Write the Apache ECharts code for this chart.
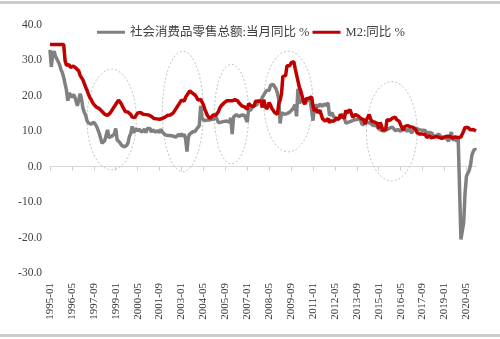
<!DOCTYPE html>
<html>
<head>
<meta charset="utf-8">
<script src="https://cdn.jsdelivr.net/npm/echarts@6/dist/echarts.min.js"></script>
<style>
  html, body { margin: 0; padding: 0; background: #ffffff; }
  #chart { width: 500px; height: 339px; }
</style>
</head>
<body>
<div id="chart"></div>
<script>
// Monthly categories 1995-01 .. 2020-12
const firstYear = 1995;
const lastYear = 2020;
const months = [];
for (let y = firstYear; y <= lastYear; y++) {
  for (let m = 1; m <= 12; m++) months.push(y + '-' + String(m).padStart(2, '0'));
}

// 社会消费品零售总额:当月同比 (%), one row per year
const retailYoY = [
  33.0, 28.2, 31.8, 32.6, 31.2, 30.4, 29.6, 28.8, 27.4, 26.6, 25.2, 23.4,
  21.6, 18.6, 20.8, 20.2, 19.6, 20.4, 19.8, 19.4, 17.2, 18.8, 20.6, 19.2,
  16.6, 15.4, 14.6, 13.0, 12.4, 12.8, 12.0, 11.8, 12.6, 12.2, 11.4, 10.4,
  9.4, 8.0, 6.6, 6.8, 7.4, 7.8, 10.4, 8.2, 8.0, 8.6, 8.4, 9.2,
  10.8, 7.6, 7.2, 6.8, 6.2, 5.8, 5.6, 5.4, 6.0, 6.8, 8.6, 9.4,
  11.4, 9.6, 10.2, 10.8, 10.0, 10.6, 10.4, 9.8, 10.2, 10.6, 9.6, 10.8,
  10.4, 10.8, 9.8, 10.4, 10.2, 9.8, 9.4, 10.2, 9.6, 10.6, 9.8, 9.4,
  9.0, 8.6, 8.8, 8.4, 8.8, 8.6, 8.6, 8.8, 8.4, 8.8, 9.2, 8.6,
  9.4, 8.6, 9.2, 7.8, 4.3, 8.4, 9.2, 9.6, 9.8, 9.4, 10.0, 10.6,
  11.0, 11.6, 17.2, 13.6, 13.4, 13.0, 12.8, 13.2, 13.4, 13.2, 13.8, 13.2,
  13.4, 14.2, 13.9, 12.4, 12.8, 12.6, 12.6, 12.8, 13.2, 12.9, 13.0, 12.6,
  13.8, 9.2, 14.0, 14.3, 14.7, 14.4, 14.2, 14.4, 14.6, 14.8, 14.5, 14.0,
  12.6, 16.4, 15.8, 16.2, 16.8, 17.4, 17.2, 17.4, 18.6, 18.8, 18.6, 19.6,
  20.2, 19.8, 21.5, 22.0, 21.6, 23.0, 23.3, 23.2, 23.2, 22.0, 20.8, 19.0,
  12.2, 15.2, 14.7, 14.8, 15.2, 15.0, 15.2, 15.4, 15.5, 16.2, 15.8, 17.5,
  14.2, 22.0, 18.0, 18.5, 18.7, 18.3, 17.9, 18.4, 18.8, 18.6, 18.7, 19.1,
  13.0, 16.6, 17.4, 17.1, 16.9, 17.7, 17.2, 17.0, 17.7, 17.2, 17.3, 18.1,
  14.5, 14.7, 15.2, 14.1, 13.8, 13.7, 13.1, 13.2, 14.2, 14.5, 14.9, 15.2,
  12.3, 12.3, 12.6, 12.8, 12.9, 13.3, 13.2, 13.4, 13.3, 13.3, 13.7, 13.6,
  11.8, 11.8, 12.2, 11.9, 12.5, 12.4, 12.2, 11.9, 11.6, 11.5, 11.7, 11.9,
  10.7, 10.7, 10.2, 10.0, 10.1, 10.6, 10.5, 10.8, 10.9, 11.0, 11.2, 11.1,
  10.2, 10.2, 10.5, 10.1, 10.0, 10.6, 10.2, 10.6, 10.7, 10.0, 10.8, 10.9,
  9.5, 9.5, 10.9, 10.7, 10.7, 11.0, 10.4, 10.1, 10.3, 10.0, 10.2, 9.4,
  9.7, 9.7, 10.1, 9.4, 8.5, 9.0, 8.8, 9.0, 9.2, 8.6, 8.1, 8.2,
  8.2, 8.2, 8.7, 7.2, 8.6, 9.8, 7.6, 7.5, 7.8, 7.2, 8.0, 8.0,
  -20.5, -20.5, -15.8, -7.5, -2.8, -1.8, -1.1, 0.5, 3.3, 4.3, 5.0, 4.6
];

// M2:同比 (%), one row per year
const m2YoY = [
  34.5, 34.5, 34.5, 34.5, 34.5, 34.5, 34.5, 34.5, 34.5, 34.5, 34.5, 30.0,
  28.6, 28.2, 28.8, 28.0, 27.6, 28.4, 28.1, 27.8, 27.4, 27.0, 25.8, 25.3,
  24.5, 23.5, 22.5, 21.6, 20.5, 19.6, 19.0, 18.2, 17.6, 17.1, 16.8, 16.6,
  16.4, 16.0, 15.6, 15.2, 14.8, 14.6, 14.5, 14.7, 15.2, 15.8, 16.4, 17.0,
  17.4, 18.2, 18.8, 18.6, 17.8, 17.0, 16.2, 15.6, 15.2, 15.4, 15.0, 14.7,
  14.0, 14.4, 13.9, 14.6, 15.2, 15.5, 15.3, 15.0, 14.8, 14.6, 14.7, 14.9,
  14.6, 14.4, 14.2, 13.8, 13.6, 13.4, 13.5, 13.2, 13.4, 13.2, 13.6, 13.8,
  14.0, 14.2, 14.5, 14.4, 14.6, 14.7, 15.2, 15.6, 16.4, 17.0, 17.6, 17.2,
  18.8, 18.6, 18.5, 19.6, 20.2, 20.8, 21.4, 21.6, 20.8, 20.4, 20.2, 19.6,
  18.8, 19.2, 19.0, 19.1, 17.5, 16.2, 15.3, 14.4, 14.1, 13.6, 14.0, 14.6,
  14.2, 14.5, 14.8, 15.6, 16.6, 17.2, 17.6, 18.0, 18.4, 18.6, 18.8, 18.6,
  18.8, 18.6, 18.4, 18.9, 19.0, 18.6, 18.0, 17.8, 17.2, 17.4, 16.9, 17.0,
  16.2, 17.8, 17.3, 17.1, 16.7, 17.1, 18.5, 18.1, 18.5, 18.5, 18.5, 16.7,
  18.9, 17.5, 16.3, 16.9, 18.1, 17.4, 16.4, 16.0, 15.3, 15.0, 14.8, 17.8,
  18.8, 20.5, 25.5, 26.0, 25.7, 28.5, 28.4, 28.5, 29.3, 29.4, 29.7, 27.7,
  26.0, 25.5, 22.5, 21.5, 21.0, 18.5, 17.6, 19.2, 19.0, 19.3, 19.5, 19.7,
  17.2, 15.7, 16.6, 15.3, 15.1, 15.9, 14.7, 13.5, 13.0, 12.9, 12.7, 13.6,
  12.4, 13.0, 13.4, 12.8, 13.2, 13.6, 13.9, 13.5, 14.8, 14.1, 13.9, 13.8,
  15.9, 15.2, 15.7, 16.1, 15.8, 14.0, 14.5, 14.7, 14.2, 14.3, 14.2, 13.6,
  13.2, 13.3, 12.1, 13.2, 13.4, 14.7, 13.5, 12.8, 12.9, 12.6, 12.3, 12.2,
  10.8, 12.5, 11.6, 10.1, 10.8, 10.2, 13.3, 13.3, 13.1, 13.5, 13.7, 13.3,
  14.0, 13.3, 13.4, 12.8, 11.8, 11.8, 10.2, 11.4, 11.5, 11.6, 11.4, 11.3,
  11.3, 11.1, 10.6, 10.5, 9.6, 9.4, 9.2, 8.9, 9.2, 8.8, 9.1, 8.2,
  8.6, 8.8, 8.2, 8.3, 8.3, 8.0, 8.5, 8.2, 8.3, 8.0, 8.0, 8.1,
  8.4, 8.0, 8.6, 8.5, 8.5, 8.5, 8.1, 8.2, 8.4, 8.4, 8.2, 8.7,
  8.4, 8.8, 10.1, 11.1, 11.1, 11.1, 10.7, 10.4, 10.9, 10.5, 10.7, 10.1
];

const seriesNames = ['社会消费品零售总额:当月同比 %', 'M2:同比 %'];
const yMin = -30, yMax = 40, yStep = 10;

// Highlighted cycles: month span and value span of each dotted ring
const ringFrom   = ['1997-04', '2001-11', '2005-01', '2008-01', '2014-04'];
const ringTo     = ['2000-04', '2004-05', '2007-02', '2011-01', '2017-05'];
const ringTop    = [27.5, 32.6, 28.9, 32.6, 24.0];
const ringBottom = [-0.9, -1.4, 0.8, 4.2, -4.0];

const serif = '"Liberation Serif", "Times New Roman", serif';
const legendFont = '"Liberation Serif", "Noto Sans CJK SC", serif';

const chart = echarts.init(document.getElementById('chart'), null, { renderer: 'canvas' });

const option = {
  animation: false,
  backgroundColor: '#ffffff',
  grid: { left: 50, right: 24, top: 25, bottom: 66, containLabel: false, outerBoundsMode: 'none' },
  legend: {
    data: seriesNames,
    left: 97,
    top: 26,
    padding: 0,
    icon: 'rect',
    itemWidth: 28,
    itemHeight: 3,
    itemGap: 3,
    textStyle: { fontFamily: legendFont, fontSize: 12.5, color: '#404040' }
  },
  xAxis: [
    {
      type: 'category',
      data: months,
      boundaryGap: false,
      position: 'bottom',
      axisLine: { onZero: true, lineStyle: { color: '#d9d9d9', width: 1 } },
      axisTick: { show: true, interval: 15, length: 4, lineStyle: { color: '#d0d0d0' } },
      axisLabel: { show: false },
      splitLine: { show: false }
    },
    {
      type: 'category',
      data: months,
      boundaryGap: false,
      position: 'bottom',
      axisLine: { show: false, onZero: false },
      axisTick: { show: false },
      axisLabel: {
        show: true, interval: 15, rotate: 90, margin: 10,
        fontFamily: serif, fontSize: 11, color: '#333333'
      },
      splitLine: { show: false }
    }
  ],
  yAxis: {
    type: 'value',
    min: yMin,
    max: yMax,
    interval: yStep,
    axisLine: { show: false },
    axisTick: { show: false },
    splitLine: { show: false },
    axisLabel: {
      margin: 8,
      fontFamily: serif,
      fontSize: 11.5,
      color: '#404040',
      formatter: v => v.toFixed(1)
    }
  },
  series: [
    {
      name: seriesNames[0],
      type: 'line',
      data: retailYoY,
      symbol: 'none',
      showSymbol: false,
      lineStyle: { color: '#808080', width: 3.5 },
      itemStyle: { color: '#808080' },
      z: 3
    },
    {
      name: seriesNames[1],
      type: 'line',
      data: m2YoY,
      symbol: 'none',
      showSymbol: false,
      lineStyle: { color: '#c00000', width: 3.5 },
      itemStyle: { color: '#c00000' },
      z: 4
    }
  ]
};

chart.setOption(option);

// Dotted rings around the cycles, placed through the axes
const rings = ringFrom.map((from, k) => {
  const a = chart.convertToPixel({ xAxisIndex: 0, yAxisIndex: 0 }, [months.indexOf(from), ringTop[k]]);
  const b = chart.convertToPixel({ xAxisIndex: 0, yAxisIndex: 0 }, [months.indexOf(ringTo[k]), ringBottom[k]]);
  return {
    type: 'ellipse',
    silent: true,
    z: 1,
    shape: {
      cx: (a[0] + b[0]) / 2,
      cy: (a[1] + b[1]) / 2,
      rx: Math.abs(b[0] - a[0]) / 2,
      ry: Math.abs(b[1] - a[1]) / 2
    },
    style: { fill: null, stroke: '#c4c4c4', lineWidth: 1, lineDash: [2, 2] }
  };
});

// Page rules at top and bottom
const rules = [
  { type: 'rect', silent: true, shape: { x: 0, y: 1, width: 500, height: 3 }, style: { fill: '#cccccc' } },
  { type: 'rect', silent: true, shape: { x: 0, y: 334, width: 500, height: 3 }, style: { fill: '#cccccc' } }
];

chart.setOption({ graphic: rings.concat(rules) });
</script>
</body>
</html>
